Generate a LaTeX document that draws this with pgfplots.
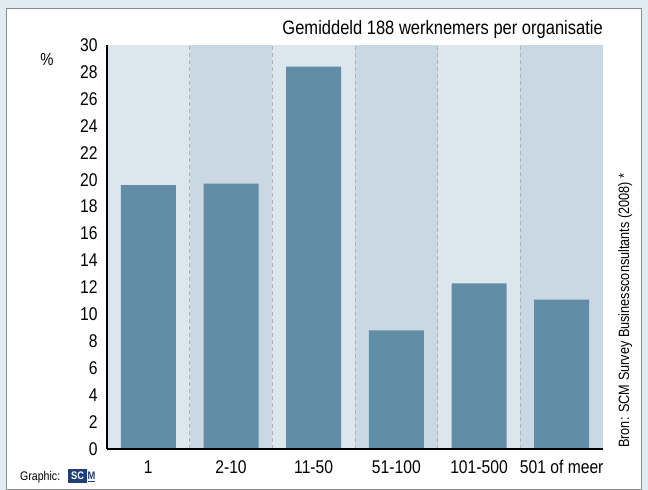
\documentclass[border=0pt]{standalone}
\usepackage{pgfplots}
\pgfplotsset{compat=1.18}
\usepackage{fontspec}
\setmainfont{Liberation Sans}[FakeStretch=0.85]
\definecolor{barc}{HTML}{628DA7}
\definecolor{bandA}{HTML}{DCE6ED}
\definecolor{bandB}{HTML}{C9D8E3}
\definecolor{outerbg}{HTML}{E0EBF2}
\definecolor{logo}{HTML}{1F3F7A}
\begin{document}
\begin{tikzpicture}
\useasboundingbox (0bp,0bp) rectangle (648bp,490bp);
\fill[outerbg] (0bp,0bp) rectangle (648bp,490bp);
\filldraw[fill=white,draw=black!45,line width=0.8bp] (6.5bp,1bp) rectangle (641.5bp,482bp);
\begin{axis}[
  at={(107bp,41bp)}, anchor=south west,
  scale only axis, width=496bp, height=404bp,
  xmin=-0.5, xmax=5.5, ymin=0, ymax=30,
  enlargelimits=false,
  axis x line*=bottom, axis y line*=left,
  axis line style={-, black, line width=1.8bp},
  axis on top,
  xtick={0,...,5},
  xticklabels={1,2-10,11-50,51-100,101-500,501 of meer},
  ytick={0,2,...,30},
  major tick length=0pt,
  /pgf/number format/assume math mode=true,
  tick label style={font=\fontsize{18.5}{21}\selectfont},
  yticklabel style={xshift=-6bp},
  xticklabel style={yshift=-8bp},
]
\fill[bandA] (axis cs:-0.5,0) rectangle (axis cs:0.5,30);
\fill[bandB] (axis cs:0.5,0) rectangle (axis cs:1.5,30);
\fill[bandA] (axis cs:1.5,0) rectangle (axis cs:2.5,30);
\fill[bandB] (axis cs:2.5,0) rectangle (axis cs:3.5,30);
\fill[bandA] (axis cs:3.5,0) rectangle (axis cs:4.5,30);
\fill[bandB] (axis cs:4.5,0) rectangle (axis cs:5.5,30);
\foreach \xx in {0.5,1.5,2.5,3.5,4.5}{
  \edef\tmp{\noexpand\draw[black!30, dashed, dash pattern=on 4bp off 3bp, line width=0.9bp] (axis cs:\xx,0) -- (axis cs:\xx,30);}\tmp
}
\addplot[ybar, bar width=55bp, fill=barc, draw=none] coordinates {
  (0,19.6) (1,19.7) (2,28.4) (3,8.8) (4,12.3) (5,11.1)
};
\end{axis}
\node[anchor=base east, font=\fontsize{19.5}{22}\selectfont, inner sep=0] at (603bp,455bp) {Gemiddeld 188 werknemers per organisatie};
\node[font=\fontsize{17.5}{20}\selectfont] at (47bp,430bp) {\%};
\node[anchor=base west, font=\fontsize{12.5}{14}\selectfont, inner sep=0] at (20bp,10bp) {Graphic:};
\node[anchor=base west, font=\bfseries\fontsize{11}{12}\selectfont, inner sep=0] (lg) at (68bp,10.5bp) {\colorbox{logo}{\color{white}SC}};
\node[anchor=base west, font=\bfseries\fontsize{11}{12}\selectfont, inner sep=0, text=logo] at (lg.base east) {\underline{M}};
\node[anchor=base west, rotate=90, font=\fontsize{15}{17}\selectfont, inner sep=0] at (629bp,42bp) {Bron: SCM Survey Businessconsultants (2008) *};
\end{tikzpicture}
\end{document}
